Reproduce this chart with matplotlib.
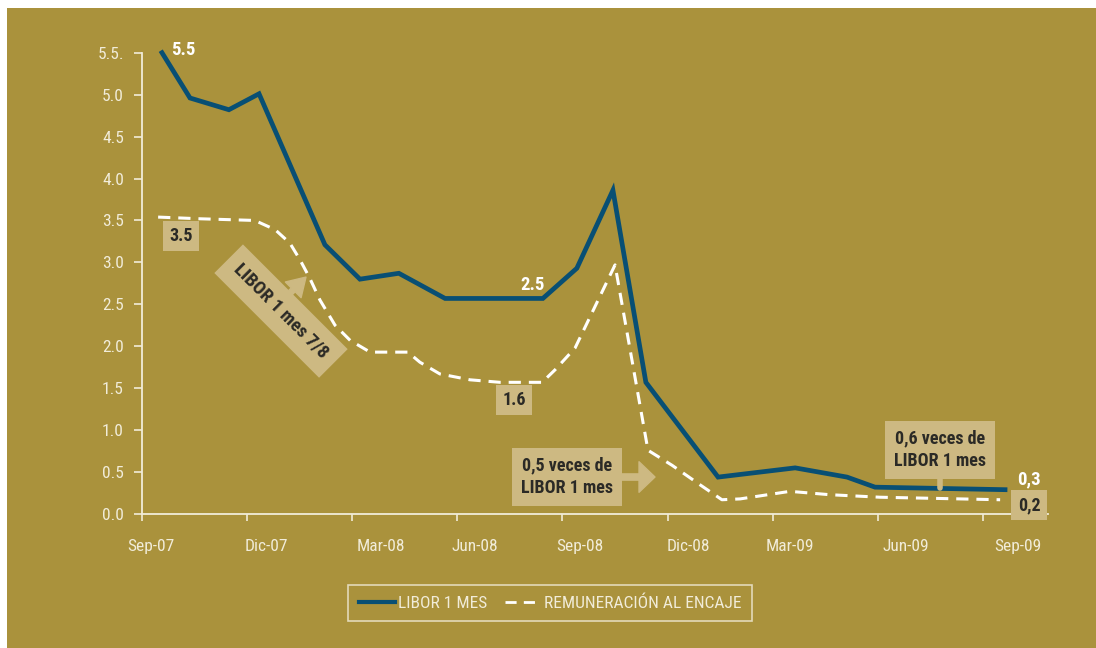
import matplotlib
matplotlib.use("Agg")
import matplotlib.pyplot as plt
from matplotlib.lines import Line2D
from matplotlib.patches import Rectangle

plt.rcParams['font.family'] = ['Roboto Condensed', 'DejaVu Sans']

# months counted from Sep-07
libor_x = [0.57, 1.37, 2.48, 3.34, 5.22, 6.22, 7.33, 8.65, 11.44, 12.41, 13.44,
           14.38, 16.44, 18.64, 20.12, 20.92, 24.63]
libor_y = [5.50, 4.96, 4.82, 5.01, 3.21, 2.80, 2.87, 2.57, 2.57, 2.93, 3.86,
           1.57, 0.44, 0.55, 0.44, 0.32, 0.29]

encaje_x = [0.46, 1.65, 3.22, 3.80, 4.22, 4.51, 4.79, 5.08, 5.51, 5.94, 6.51,
            7.59, 7.93, 8.50, 9.36, 10.22, 11.42, 11.79, 12.36, 13.50, 14.44,
            15.13, 15.92, 16.55, 17.07, 18.49, 19.63, 21.06, 24.49]
encaje_y = [3.54, 3.52, 3.50, 3.39, 3.23, 3.03, 2.81, 2.55, 2.25, 2.07, 1.93,
            1.93, 1.81, 1.67, 1.60, 1.57, 1.57, 1.72, 1.98, 2.97, 0.76,
            0.58, 0.35, 0.17, 0.18, 0.27, 0.23, 0.20, 0.17]

tick_months = [0, 3, 6, 9, 12, 15, 18, 21, 24]
label_months = [0.26, 3.54, 6.82, 9.5, 12.5, 15.58, 18.49, 21.8, 25.0]
month_labels = ['Sep-07', 'Dic-07', 'Mar-08', 'Jun-08', 'Sep-08', 'Dic-08',
                'Mar-09', 'Jun-09', 'Sep-09']
y_ticks = [0.0, 0.5, 1.0, 1.5, 2.0, 2.5, 3.0, 3.5, 4.0, 4.5, 5.0, 5.5]
y_labels = ['0.0', '0.5', '1.0', '1.5', '2.0', '2.5', '3.0', '3.5', '4.0',
            '4.5', '5.0', '5.5.']

bg = '#AA923C'
cream = '#F1ECD9'
tan = '#CDB982'
blue = '#084F74'
dark = '#2B2A26'

W, H = 1096, 648
fig = plt.figure(figsize=(W / 100, H / 100), dpi=100)
fig.patch.set_facecolor('white')
fig.patches.append(Rectangle((7 / W, 0), 1, (H - 8) / H, transform=fig.transFigure,
                             facecolor=bg, edgecolor='none', zorder=-10))

ax = fig.add_axes([142 / W, (H - 514) / H, (1048 - 142) / W, (514 - 52.7) / H])
ax.set_facecolor('none')


def px(x, y):
    # picture pixel -> data coordinates, for placing annotations
    return ((x - 142) / 35.04, (514 - y) / 83.9)


ax.plot(libor_x, libor_y, color=blue, lw=3.4, solid_joinstyle='miter',
        clip_on=False, zorder=3)
ax.plot(encaje_x, encaje_y, color='white', lw=2.2, dashes=(4, 2.6),
        clip_on=False, zorder=3)

ax.set_xlim(0, (1048 - 142) / 35.04)
ax.set_ylim(0, 5.5)

for s in ['top', 'right']:
    ax.spines[s].set_visible(False)
for s in ['left', 'bottom']:
    ax.spines[s].set_color(cream)
    ax.spines[s].set_linewidth(1.3)

ax.set_yticks(y_ticks)
ax.set_yticklabels(y_labels)
ax.tick_params(axis='y', direction='out', length=6, width=1.2, color=cream,
               labelcolor=cream, labelsize=12.5, pad=7)
ax.set_xticks(tick_months)
ax.set_xticklabels([])
ax.set_xticks(label_months, minor=True)
ax.set_xticklabels(month_labels, minor=True)
ax.tick_params(axis='x', which='major', direction='out', length=5, width=1.2,
               color=cream)
ax.tick_params(axis='x', which='minor', length=0, labelcolor=cream,
               labelsize=12.5, pad=18)

box = dict(boxstyle='square,pad=0.35', fc=tan, ec='none')
txt = dict(color=dark, fontsize=13, fontweight='bold', ha='center', va='center',
           zorder=5)

ax.text(*px(183, 50), '5.5', color='white', fontsize=13.5, fontweight='bold',
        ha='center', va='center')
ax.text(*px(181, 236), '3.5', bbox=box, **txt)
ax.text(*px(281, 311), 'LIBOR 1 mes 7/8', rotation=-45, rotation_mode='anchor',
        bbox=dict(boxstyle='square,pad=0.6', fc=tan, ec='none'),
        **{**txt, 'fontsize': 13.5})
ax.annotate('', xy=px(306, 277), xytext=px(282, 301),
            arrowprops=dict(arrowstyle='simple,head_length=1.3,head_width=1.6,tail_width=0.4',
                            mutation_scale=10, color=tan, shrinkA=0, shrinkB=0), zorder=4)
ax.text(*px(533, 285), '2.5', color='white', fontsize=13.5, fontweight='bold',
        ha='center', va='center')
ax.text(*px(514, 400), '1.6', bbox=box, **txt)

ax.annotate('', xy=px(655, 477), xytext=px(620, 477),
            arrowprops=dict(arrowstyle='simple,head_length=1.15,head_width=2.2,tail_width=0.45',
                            mutation_scale=10, color=tan, shrinkA=0, shrinkB=0), zorder=4)
ax.text(*px(567, 477), '0,5 veces de\nLIBOR 1 mes', linespacing=1.35,
        bbox=dict(boxstyle='square,pad=0.5', fc=tan, ec='none'), **txt)

ax.annotate('', xy=px(940, 488), xytext=px(940, 470),
            arrowprops=dict(arrowstyle='-', lw=4, color=tan, shrinkA=0, shrinkB=0),
            zorder=4)
ax.text(*px(940, 450), '0,6 veces de\nLIBOR 1 mes', linespacing=1.35,
        bbox=dict(boxstyle='square,pad=0.5', fc=tan, ec='none'), **txt)

ax.text(*px(1029, 479), '0,3', color='white', fontsize=13.5, fontweight='bold',
        ha='center', va='center')
ax.text(*px(1029, 505), '0,2', bbox=box, **txt)

handles = [Line2D([], [], color=blue, lw=3),
           Line2D([], [], color='white', lw=2, dashes=(4, 2.6))]
leg = fig.legend(handles, ['LIBOR 1 MES', 'REMUNERACIÓN AL ENCAJE'],
                 loc='center', bbox_to_anchor=(550 / W, 1 - 603 / H), ncol=2,
                 frameon=True, fancybox=False, edgecolor=cream, facecolor='none',
                 fontsize=12.5, handlelength=2.1, handletextpad=0.15,
                 columnspacing=1.0, borderpad=0.6, borderaxespad=0)
leg.get_frame().set_linewidth(1.2)
for t in leg.get_texts():
    t.set_color(cream)

fig.savefig('out.png', dpi=100)
